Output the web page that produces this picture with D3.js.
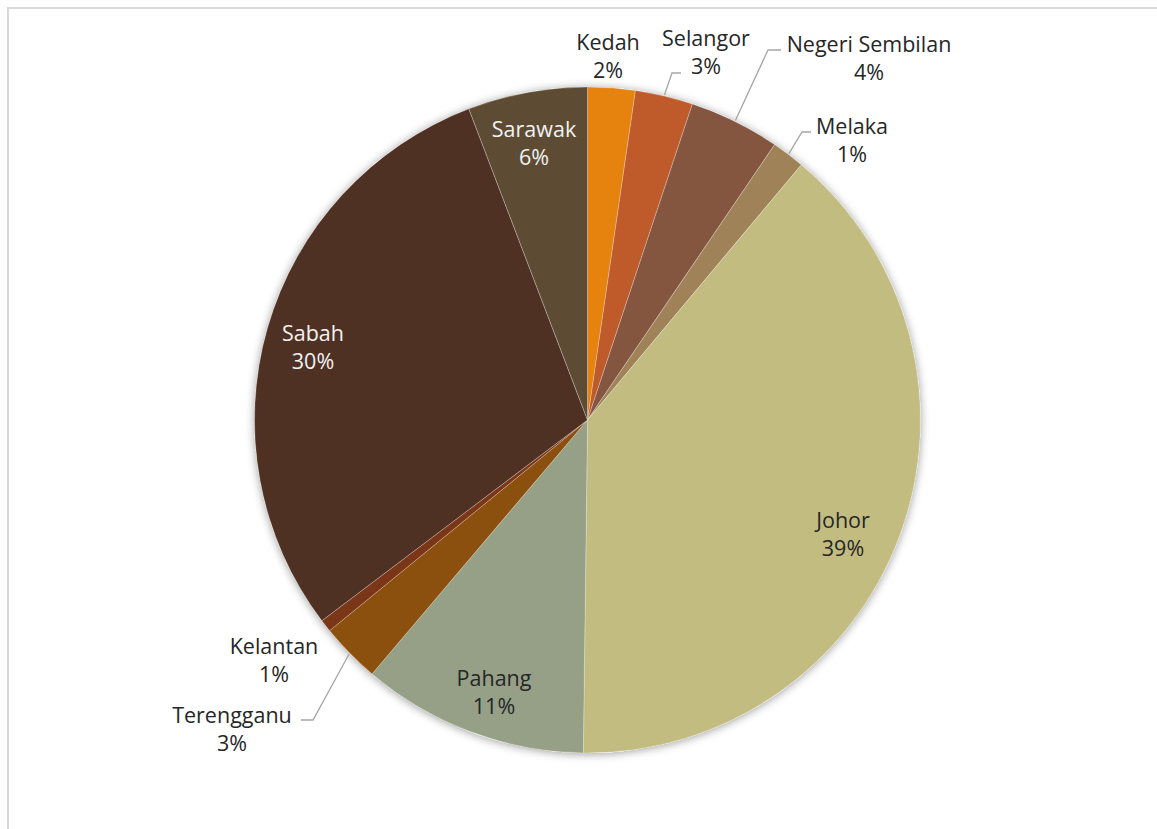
<!DOCTYPE html>
<html>
<head>
<meta charset="utf-8">
<script src="https://cdn.jsdelivr.net/npm/d3@7"></script>
<style>
  body { margin: 0; background: #fff; }
  svg { display: block; font-family: "Open Sans", sans-serif; }
</style>
</head>
<body>
<svg id="chart" width="1157" height="829"></svg>
<script>
// data, clockwise from 12 o'clock
const states = ["Kedah", "Selangor", "Negeri Sembilan", "Melaka", "Johor", "Pahang", "Terengganu", "Kelantan", "Sabah", "Sarawak"];
const shares = [2.3, 2.8, 4.4, 1.6, 39.1, 11.0, 2.9, 0.6, 29.5, 5.8];
const pctLabels = ["2%", "3%", "4%", "1%", "39%", "11%", "3%", "1%", "30%", "6%"];
const colors = ["#e6820e", "#bf5a2b", "#85563f", "#9f8257", "#c3bc80", "#95a086", "#8b4f0e", "#7b3517", "#4f3124", "#5d4c33"];

// label layout (centre of the name line) and leader elbows
const labelPos = [[608, 50], [706, 46], [869, 52], [852, 134], [843, 528], [494, 686], [232, 723], [274, 654], [313, 341], [534, 137]];
const labelFill = ["#262626", "#262626", "#262626", "#262626", "#262626", "#262626", "#262626", "#262626", "#f2f2f2", "#f2f2f2"];
const leaders = {
  1: [[672, 73], [681, 73]],
  2: [[768, 50], [781, 50]],
  3: [[802, 132], [811, 132]],
  6: [[313, 720], [301, 720]]
};

const svg = d3.select("#chart");
const cx = 587.5, cy = 420, r = 333;

// chart frame (partly cropped in the original)
svg.append("rect")
  .attr("x", 8).attr("y", 8)
  .attr("width", 1200).attr("height", 900)
  .attr("fill", "none")
  .attr("stroke", "#d9d9d9")
  .attr("stroke-width", 2);

const defs = svg.append("defs");
const f = defs.append("filter").attr("id", "glow")
  .attr("x", "-10%").attr("y", "-10%").attr("width", "120%").attr("height", "120%");
f.append("feGaussianBlur").attr("in", "SourceAlpha").attr("stdDeviation", 5);
f.append("feOffset").attr("dx", 0).attr("dy", 1).attr("result", "b");
f.append("feComponentTransfer").append("feFuncA").attr("type", "linear").attr("slope", 0.4);
const m = f.append("feMerge");
m.append("feMergeNode");
m.append("feMergeNode").attr("in", "SourceGraphic");

const pie = d3.pie().sort(null).value(d => d);
const arc = d3.arc().innerRadius(0).outerRadius(r);
const arcs = pie(shares);

const g = svg.append("g").attr("transform", `translate(${cx},${cy})`);

g.append("circle").attr("r", r).attr("fill", "#fff").attr("filter", "url(#glow)");

g.selectAll("path.slice")
  .data(arcs)
  .join("path")
  .attr("class", "slice")
  .attr("d", arc)
  .attr("fill", (d, i) => colors[i])
  .attr("stroke", "rgba(255,255,255,0.25)")
  .attr("stroke-width", 1);

// leader lines from the slice edge to the labels
Object.entries(leaders).forEach(([k, pts]) => {
  const a = arcs[+k];
  const mid = (a.startAngle + a.endAngle) / 2;
  const start = [cx + Math.sin(mid) * (r + 1), cy - Math.cos(mid) * (r + 1)];
  svg.append("path")
    .attr("d", d3.line()([start, ...pts]))
    .attr("fill", "none")
    .attr("stroke", "#a6a6a6")
    .attr("stroke-width", 1.3);
});

const labels = svg.append("g")
  .selectAll("text")
  .data(states)
  .join("text")
  .attr("text-anchor", "middle")
  .attr("font-size", 21.5)
  .attr("fill", (d, i) => labelFill[i]);

labels.append("tspan")
  .attr("x", (d, i) => labelPos[i][0])
  .attr("y", (d, i) => labelPos[i][1])
  .text(d => d);

labels.append("tspan")
  .attr("x", (d, i) => labelPos[i][0])
  .attr("dy", 28)
  .text((d, i) => pctLabels[i]);
</script>
</body>
</html>
